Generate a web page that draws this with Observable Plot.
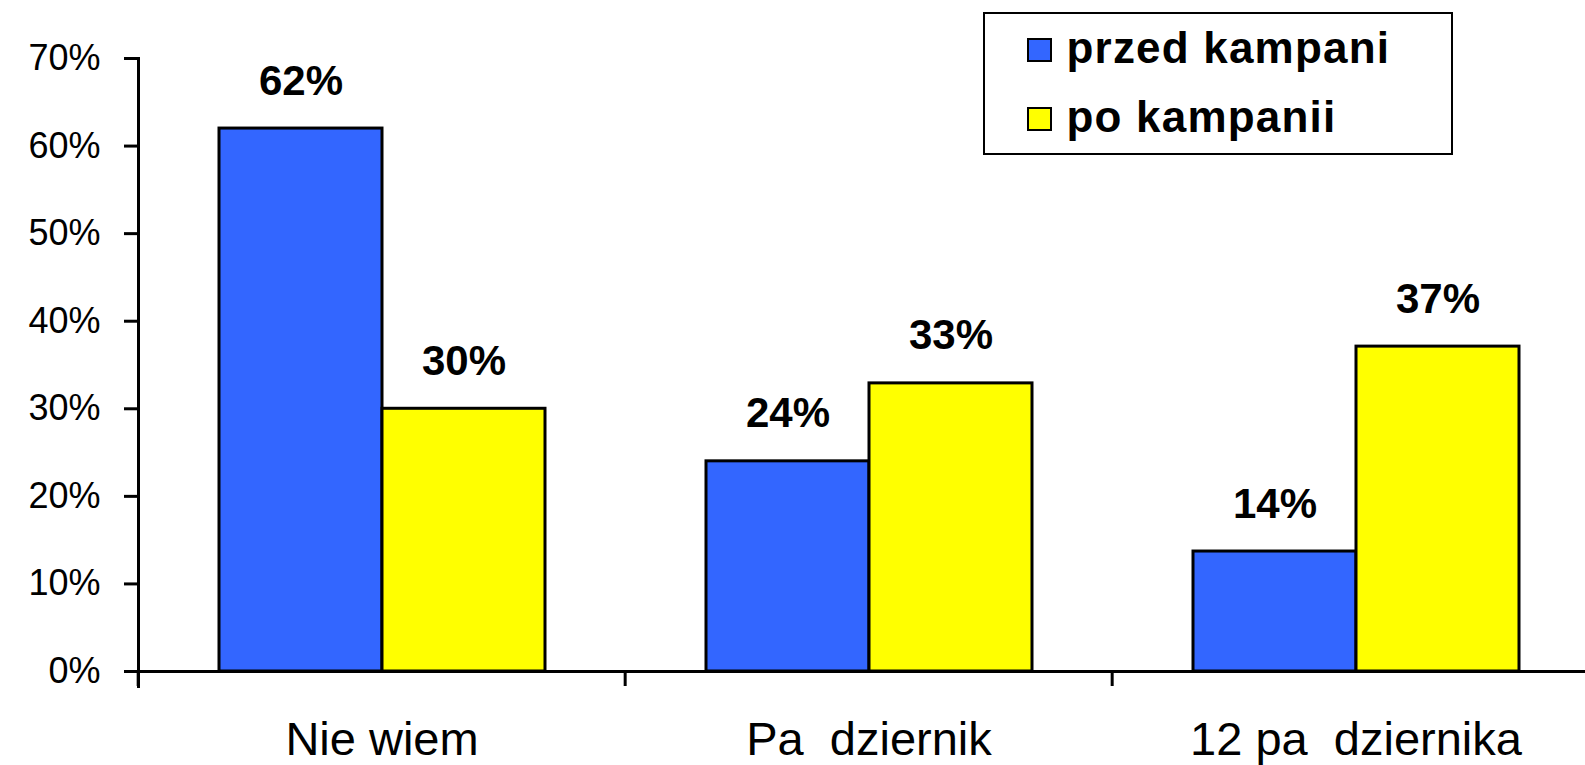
<!DOCTYPE html>
<html><head><meta charset="utf-8">
<script src="https://cdn.jsdelivr.net/npm/d3@7"></script>
<script src="https://cdn.jsdelivr.net/npm/@observablehq/plot@0.6"></script>
<style>
body{margin:0;background:#fff;font-family:"Liberation Sans",Arial,sans-serif;}
#wrap{position:relative;width:1585px;height:765px;overflow:hidden;background:#fff;}
#wrap svg{position:absolute;left:0;top:0;}
#legend{position:absolute;left:983px;top:12px;width:470px;height:143px;border:2.5px solid #000;box-sizing:border-box;background:#fff;}
.sw{position:absolute;width:25px;height:24px;border:2px solid #000;box-sizing:border-box;}
.lt{position:absolute;font-size:44px;line-height:44px;font-weight:bold;letter-spacing:1.2px;white-space:nowrap;color:#000;}
</style></head>
<body><div id="wrap"><div id="legend"></div></div>
<script>
const categories = ["Nie wiem", "Pa\u00a0\u00a0dziernik", "12 pa\u00a0\u00a0dziernika"];
const seriesNames = ["przed kampani", "po kampanii"];
const przedValues = [62, 24, 13.7];
const poValues = [30, 32.9, 37.1];
const yTicks = [0, 10, 20, 30, 40, 50, 60, 70];
const seriesColors = ["#3366FF", "#FFFF00"];

const rows = categories.flatMap((c, i) => [
  {cat: c, series: seriesNames[0], value: przedValues[i]},
  {cat: c, series: seriesNames[1], value: poValues[i]}
]);

const W = 1585, H = 765, ML = 137, MR = -15, MT = 58, MB = 94;
const bw = (W - ML - MR) / categories.length;

const chart = Plot.plot({
  width: W, height: H,
  marginLeft: ML, marginRight: MR, marginTop: MT, marginBottom: MB,
  style: {fontFamily: "Liberation Sans, Arial, sans-serif", background: "#fff", color: "#000", overflow: "hidden"},
  fx: {domain: categories, padding: 0, axis: null, label: null},
  x: {domain: seriesNames, paddingInner: 0, paddingOuter: 0.49, axis: null, label: null},
  y: {domain: [0, 70], axis: null, label: null},
  color: {domain: seriesNames, range: seriesColors},
  marks: [
    Plot.barY(rows, {fx: "cat", x: "series", y: "value", fill: "series", stroke: "#000", strokeWidth: 3}),
    Plot.text(rows, {fx: "cat", x: "series", y: "value", text: d => Math.round(d.value) + "%", dy: -34, lineAnchor: "bottom", fontSize: 42, fontWeight: "bold", fill: "#000"}),
    Plot.ruleY([0], {stroke: "#000", strokeWidth: 3}),
    Plot.axisY({ticks: yTicks, tickFormat: d => d + "%", tickSize: 14, tickPadding: 24, fontSize: 36, strokeWidth: 3, label: null}),
    Plot.frame({anchor: "left", facetAnchor: "left", stroke: "#000", strokeWidth: 3, insetBottom: -15}),
    Plot.axisFx({anchor: "bottom", tickSize: 15, tickFormat: () => "", dx: -bw / 2, strokeWidth: 3, label: null}),
    Plot.axisFx({anchor: "bottom", tickSize: 0, tickPadding: 50, fontSize: 47, label: null})
  ]
});
const wrap = document.getElementById("wrap");
wrap.insertBefore(chart, wrap.firstChild);

const legend = document.getElementById("legend");
const swTops = [23.5, 92.5], txtTops = [12.3, 81.3];
seriesNames.forEach((name, i) => {
  const sw = document.createElement("div");
  sw.className = "sw";
  sw.style.left = "41.5px";
  sw.style.top = swTops[i] + "px";
  sw.style.background = seriesColors[i];
  legend.appendChild(sw);
  const t = document.createElement("div");
  t.className = "lt";
  t.style.left = "81.5px";
  t.style.top = txtTops[i] + "px";
  t.textContent = name;
  legend.appendChild(t);
});
</script>
</body></html>
